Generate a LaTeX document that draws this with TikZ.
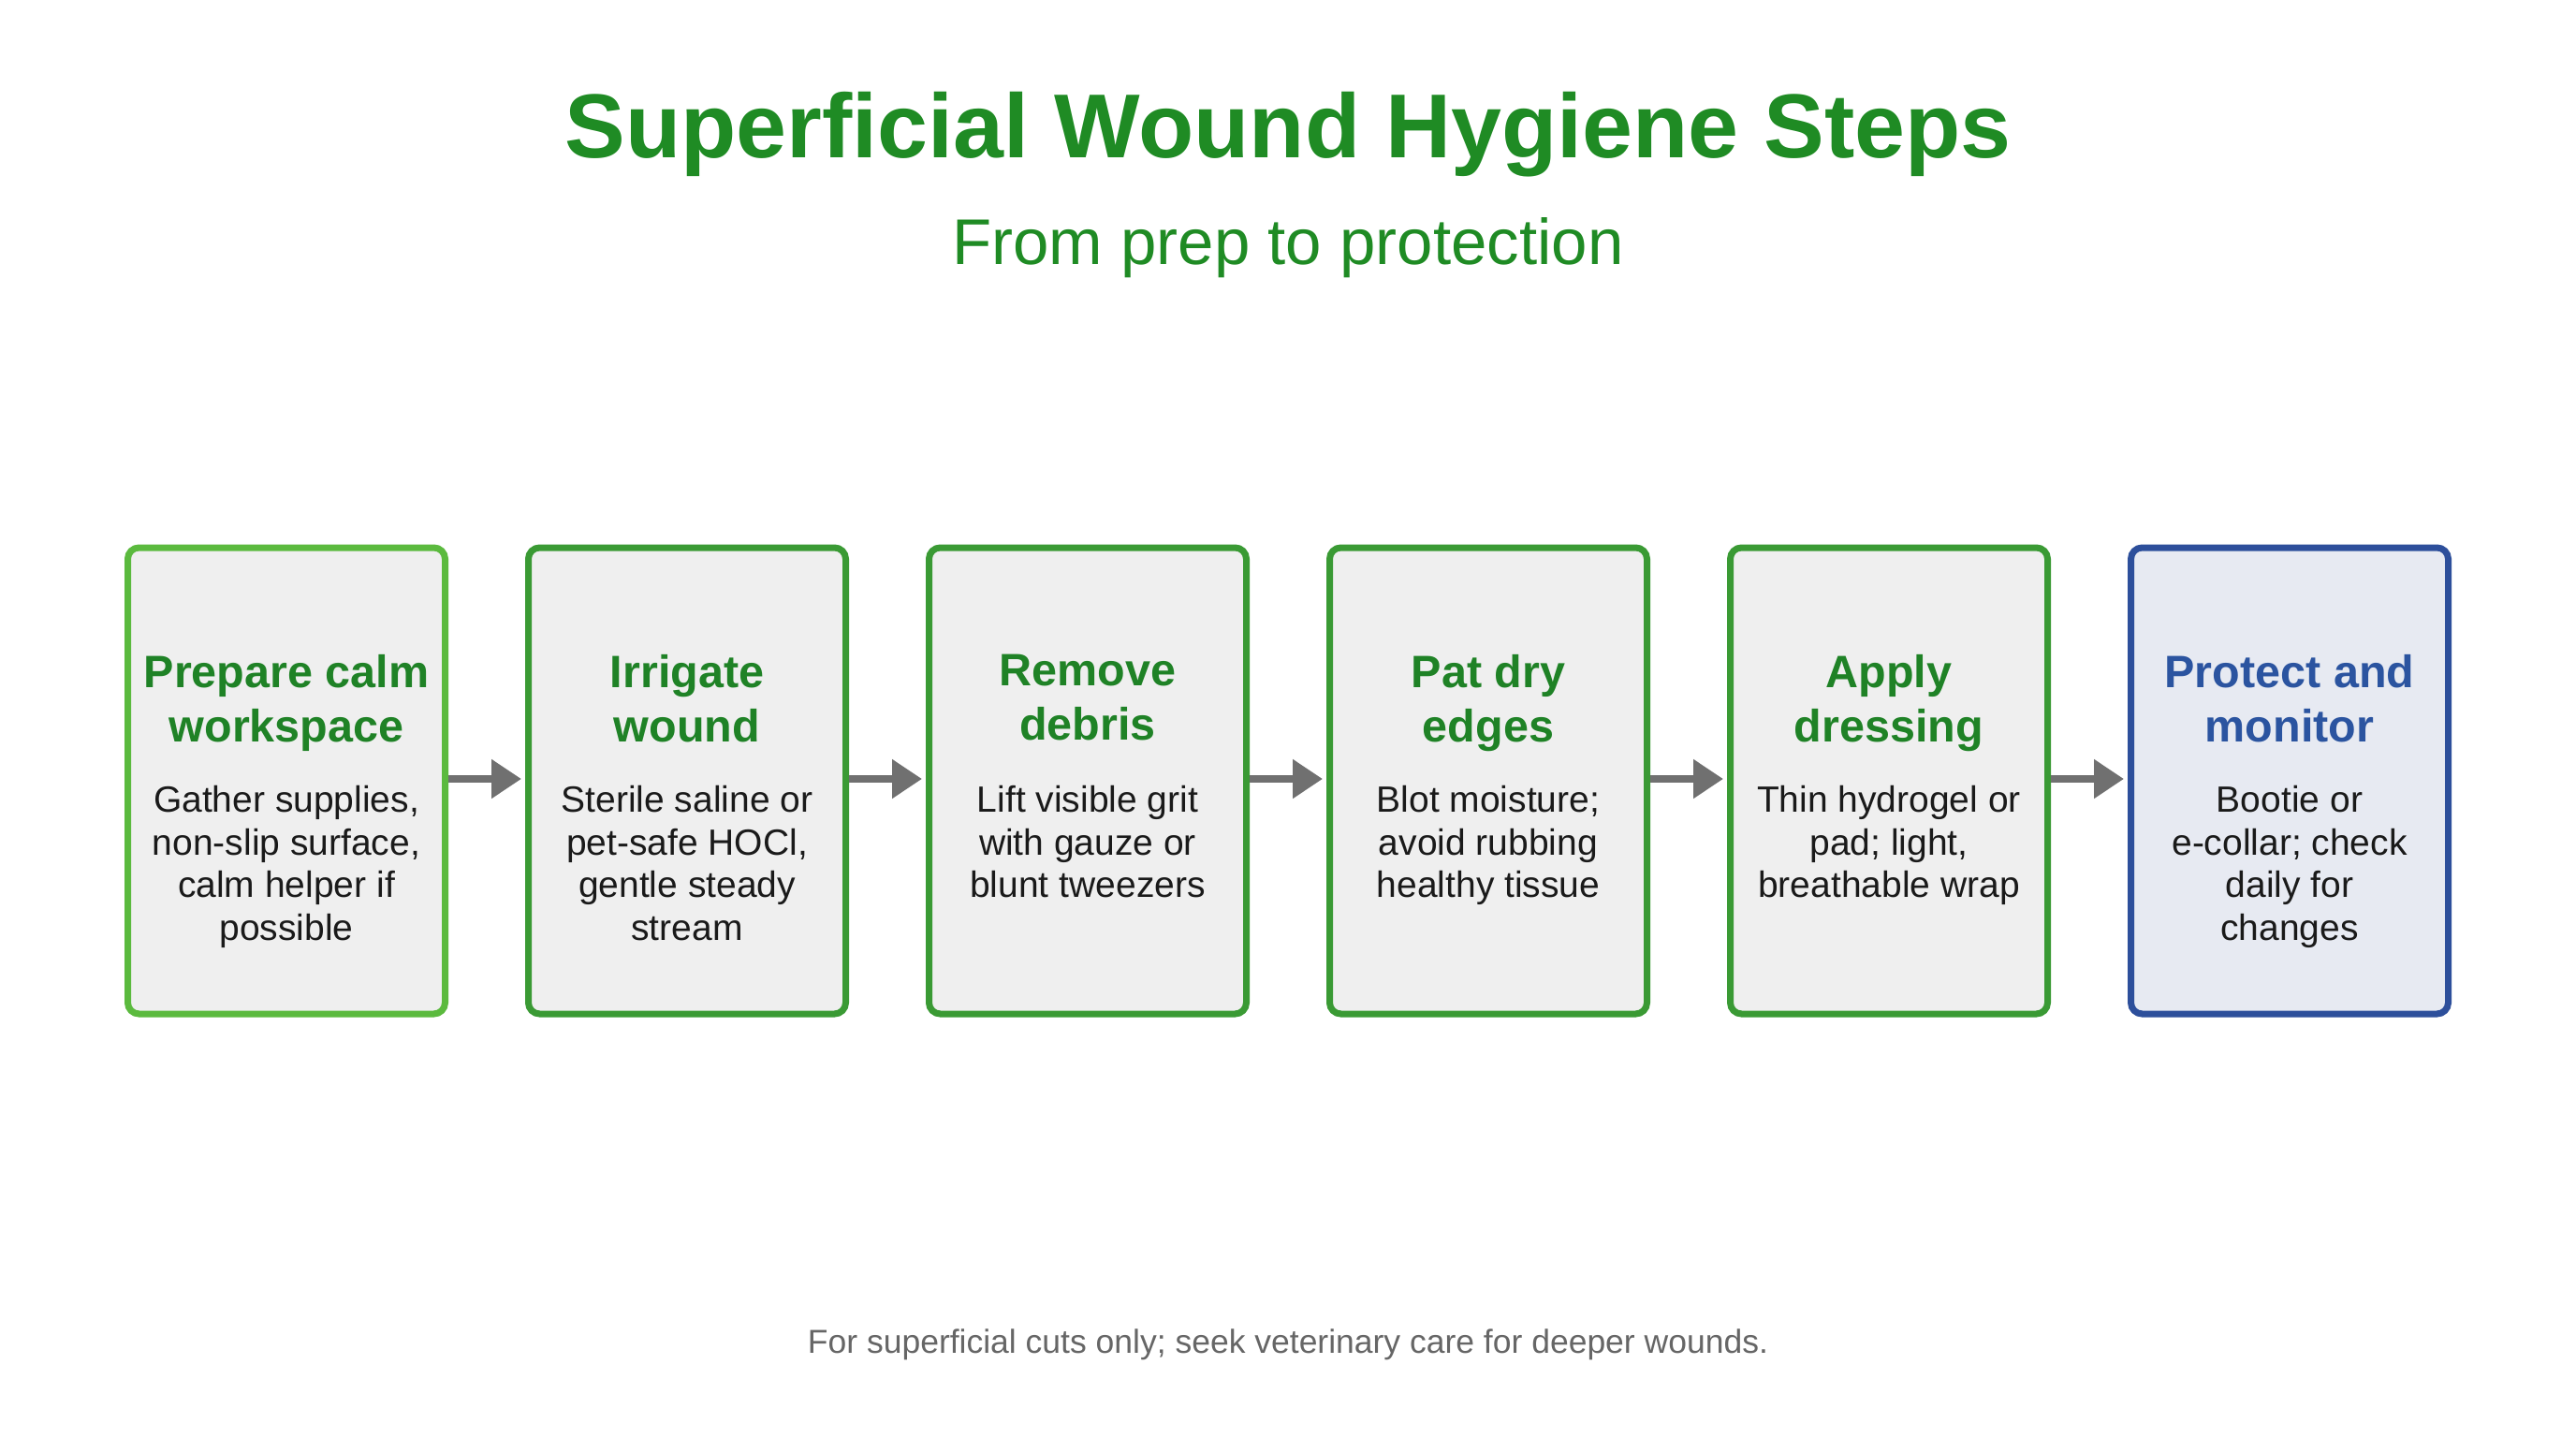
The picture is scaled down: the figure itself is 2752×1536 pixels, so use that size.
\documentclass[tikz,border=0pt]{standalone}
\usepackage{fontspec}
\setmainfont{Liberation Sans}
\usetikzlibrary{arrows.meta}
\definecolor{titlegreen}{HTML}{1F8B24}
\definecolor{boxgreen}{HTML}{3A9A34}
\definecolor{boxlight}{HTML}{5BBA3E}
\definecolor{headgreen}{HTML}{1F8226}
\definecolor{boxfill}{HTML}{EFEFEF}
\definecolor{bluefill}{HTML}{E7EAF2}
\definecolor{blueline}{HTML}{2D4F9B}
\definecolor{bluetext}{HTML}{2B54A0}
\definecolor{arrowgray}{HTML}{707070}
\definecolor{bodytext}{HTML}{1A1A1A}
\definecolor{foottext}{HTML}{666666}
\tikzset{
  stepbox/.style={draw=boxgreen, fill=boxfill, line width=7pt, rounded corners=12pt,
    minimum width=339pt, minimum height=498pt, inner sep=0pt},
  bluebox/.style={stepbox, draw=blueline, fill=bluefill},
  steptitle/.style={anchor=north, align=center, inner sep=0pt, text=headgreen,
    font=\fontsize{48.5}{58}\selectfont\bfseries},
  stepbody/.style={anchor=north, align=center, inner sep=0pt, text=bodytext,
    font=\fontsize{39}{45.6}\selectfont},
  flow/.style={draw=arrowgray, line width=8pt, -{Triangle[length=32pt,width=40pt]}, shorten >=4pt}
}
\begin{document}
\begin{tikzpicture}[x=1pt,y=-1pt]
\useasboundingbox[fill=white] (0,0) rectangle (2752,1536);
\node[font=\fontsize{97}{120}\selectfont\bfseries, text=titlegreen, anchor=base] (title) at (1376,168) {Superficial Wound Hygiene Steps};
\node[font=\fontsize{69}{80}\selectfont, text=titlegreen, anchor=base] (sub) at (1376,282) {From prep to protection};

\node[stepbox, draw=boxlight] (b1) at (306,834) {};
\node[stepbox] (b2) at (734,834) {};
\node[stepbox] (b3) at (1162,834) {};
\node[stepbox] (b4) at (1590,834) {};
\node[stepbox] (b5) at (2018,834) {};
\node[bluebox] (b6) at (2446,834) {};

\node[steptitle] (t1) at (306,699) {Prepare calm\\workspace};
\node[steptitle] (t2) at (734,699) {Irrigate\\wound};
\node[steptitle] (t3) at (1162,699) {Remove\\debris};
\node[steptitle] (t4) at (1590,699) {Pat dry\\edges};
\node[steptitle] (t5) at (2018,699) {Apply\\dressing};
\node[steptitle, text=bluetext] (t6) at (2446,699) {Protect and\\monitor};

\node[stepbody] (d1) at (306,839) {Gather supplies,\\non-slip surface,\\calm helper if\\possible};
\node[stepbody] (d2) at (734,839) {Sterile saline or\\pet-safe HOCl,\\gentle steady\\stream};
\node[stepbody] (d3) at (1162,839) {Lift visible grit\\with gauze or\\blunt tweezers};
\node[stepbody] (d4) at (1590,839) {Blot moisture;\\avoid rubbing\\healthy tissue};
\node[stepbody] (d5) at (2018,839) {Thin hydrogel or\\pad; light,\\breathable wrap};
\node[stepbody] (d6) at (2446,839) {Bootie or\\e-collar; check\\daily for\\changes};

\draw[flow] ([yshift=2pt]b1.east) -- ([yshift=2pt]b2.west);
\draw[flow] ([yshift=2pt]b2.east) -- ([yshift=2pt]b3.west);
\draw[flow] ([yshift=2pt]b3.east) -- ([yshift=2pt]b4.west);
\draw[flow] ([yshift=2pt]b4.east) -- ([yshift=2pt]b5.west);
\draw[flow] ([yshift=2pt]b5.east) -- ([yshift=2pt]b6.west);

\node[font=\fontsize{35.5}{40}\selectfont, text=foottext, anchor=base] (foot) at (1376,1445) {For superficial cuts only; seek veterinary care for deeper wounds.};
\end{tikzpicture}
\end{document}
